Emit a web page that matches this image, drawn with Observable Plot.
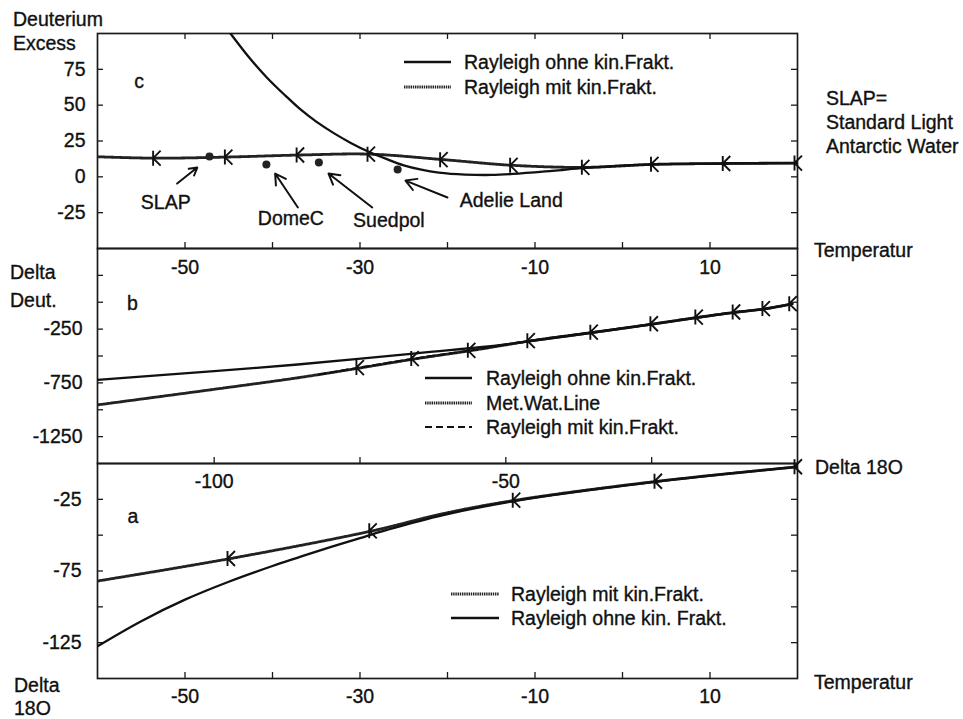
<!DOCTYPE html>
<html>
<head>
<meta charset="utf-8">
<script src="https://cdn.jsdelivr.net/npm/d3@7"></script>
<script src="https://cdn.jsdelivr.net/npm/@observablehq/plot@0.6"></script>
<style>
  body { margin: 0; background: #fff; }
  #fig { position: relative; width: 963px; height: 719px; overflow: hidden;
         font-family: "Liberation Sans", Arial, Helvetica, sans-serif; font-size: 19.5px; color: #111; }
  #fig svg.panel, #fig svg.overlay { position: absolute; left: 0; top: 0; }
  #fig svg.overlay { pointer-events: none; }
  #fig svg.panel text { stroke: #111; stroke-width: 0.35px; }
  .lbl { position: absolute; white-space: nowrap; line-height: 20px; -webkit-text-stroke: 0.35px #111; }
</style>
</head>
<body>
<div id="fig"></div>
<script>
// ---------- tick values ----------
const tempTicks = [-50, -40, -30, -20, -10, 0, 10];
const tempLabels = [-50, -30, -10, 10];
const excessTicks = [75, 50, 25, 0, -25];
const deutTicks = [250, 0, -250, -500, -750, -1000, -1250];
const deutLabels = [-250, -750, -1250];
const o18xTicks = [-100, -75, -50, -25];
const o18xLabels = [-100, -50];
const o18yTicks = [-25, -50, -75, -100, -125];
const o18yLabels = [-25, -75, -125];

// ---------- panel c: deuterium excess vs temperature ----------
const cOhneT = [-44.8, -42.5, -40.6, -38.5, -36.8, -35, -33, -31, -29, -27, -25, -23, -21, -18, -15, -12.5, -8, -4.3, 0, 3.6, 11.8, 20];
const cOhneD = [100, 82, 69, 56.5, 47, 38.5, 30.5, 23.5, 17.5, 12.5, 8, 5, 3, 1.6, 1.3, 2, 4.2, 6.2, 7.8, 8.7, 9.3, 9.6];
const cMitT = [-60, -53.3, -45.1, -36.9, -28.8, -20.5, -12.5, -4.3, 3.6, 11.8, 20];
const cMitD = [14, 13, 13.8, 15.2, 15.8, 12, 8, 6.6, 8.7, 9.3, 9.6];
const cMarkT = [-53.3, -45.1, -36.9, -28.8, -20.5, -12.5, -4.3, 3.6, 11.8, 20];
const cMarkD = [13, 13.8, 15.2, 15.8, 12, 8, 6.6, 8.7, 9.3, 9.6];

// measuring sites
const siteNames = ["SLAP", "DomeC", "Suedpol", "Adelie Land"];
const siteT = [-47.2, -40.7, -34.7, -25.7];
const siteD = [14.2, 8.6, 10, 5.1];
const siteArrowT1 = [-50.9, -37.1, -28.6, -20];
const siteArrowD1 = [-4.7, -21.4, -21.4, -14.4];
const siteArrowT2 = [-48.6, -39.7, -33.6, -24.8];
const siteArrowD2 = [6.5, 2.3, 2.3, -2.6];
const siteLabelT = [-52.2, -37.9, -26.7, -18.6];
const siteLabelD = [-18, -29, -30.5, -16.5];
const siteLabelAnchor = ["middle", "middle", "middle", "start"];

// ---------- panel b: delta D vs delta 18O ----------
const bOhneO = [-120, -100, -85.7, -66.3, -51.4, -45.8, -35, -24.7, -17, -10.6, -5.5, -0.9];
const bOhneD = [-722, -640, -579, -480, -402, -362, -282, -203, -142, -94, -62, -16];
const bMwlO = [-120, -100, -85.7, -75.1, -65.7, -56, -45.8, -35, -24.7, -17, -10.6, -5.5, -0.9];
const bMwlD = [-955, -810, -703, -612, -528, -450, -360, -280, -202, -140, -93, -61, -15];
const bMitO = [-82, -75.1, -65.7, -56, -45.8, -35, -24.7, -17, -10.6, -5.5, -0.9];
const bMitD = [-672, -608, -524, -447, -357, -278, -200, -138, -91, -59, -13];
const bMarkO = [-75.1, -65.7, -56, -45.8, -35, -24.7, -17, -10.6, -5.5, -0.9];
const bMarkD = [-608, -524, -447, -357, -278, -200, -138, -91, -59, -13];

// ---------- panel a: delta 18O vs temperature ----------
const aMitT = [-60, -44.8, -28.6, -20.5, -12.2, 4, 20];
const aMitO = [-82, -66.3, -47, -35, -25.6, -12.4, -2.3];
const aMarkT = [-44.8, -28.6, -12.2, 4, 20];
const aMarkO = [-66.3, -47, -25.6, -12.4, -2.3];
const aOhneT = [-60, -55, -50, -45, -40, -35, -30, -27, -20.5, -12.2, 4, 20];
const aOhneO = [-127.5, -110, -95, -82.5, -71.5, -61.5, -52, -46.5, -36, -26, -12.6, -2.3];

// ---------- layout ----------
const W = 963, H = 719;
const L = 97, R = 797;
const IW = R - L;
const TICK = 6;
const FS = 19.5;
const fontStack = '"Liberation Sans", Arial, Helvetica, sans-serif';

const ink = "#111";
const solidStyle = {stroke: ink, strokeWidth: 2.3};
const dottedStyle = {stroke: "#222", strokeWidth: 2.8, strokeDasharray: "1.4,0.8"};
const dashedStyle = {stroke: ink, strokeWidth: 2, strokeDasharray: "7,4"};

const pts = (xs, ys) => xs.map((x, i) => ({x, y: ys[i]}));

// "K" shaped marker used along the curves
const kSymbol = {
  draw(context, size) {
    const r = Math.sqrt(size / Math.PI);
    context.moveTo(-0.4 * r, -r);
    context.lineTo(-0.4 * r, r);
    context.moveTo(0.6 * r, -r);
    context.lineTo(-0.4 * r, 0);
    context.lineTo(0.6 * r, r);
  }
};
const kMarks = (data) => Plot.dot(data, {x: "x", y: "y", symbol: kSymbol, r: 7.5, fill: "none", stroke: ink, strokeWidth: 1.9});

function frameAndTicks(ih, {bottom = [], top = [], yTicks = []}) {
  const s = {stroke: "#1a1a1a", strokeWidth: 1.3};
  return [
    Plot.frame({stroke: "#1a1a1a", strokeWidth: 1.7}),
    Plot.ruleX(bottom, {insetTop: ih - TICK, ...s}),
    Plot.ruleX(top, {insetBottom: ih - TICK, ...s}),
    Plot.ruleY(yTicks, {insetRight: IW - TICK, ...s}),
    Plot.ruleY(yTicks, {insetLeft: IW - TICK, ...s})
  ];
}

function panel({xDomain, yDomain, top, bottom, marks}) {
  return Plot.plot({
    width: W, height: H,
    marginLeft: L, marginRight: W - R, marginTop: top, marginBottom: H - bottom,
    x: {domain: xDomain},
    y: {domain: yDomain},
    style: {background: "transparent", fontFamily: fontStack, fontSize: FS + "px", color: ink, overflow: "visible"},
    marks
  });
}

const fmt = d => String(d);
const smooth = "catmull-rom";
const panelLetter = (letter, dx, dy) =>
  Plot.text([letter], {frameAnchor: "top-left", dx, dy, textAnchor: "middle", lineAnchor: "middle", fill: ink});

// panel c
const cTop = 33, cBottom = 248;
const sites = siteNames.map((name, i) => ({
  name, x: siteT[i], y: siteD[i],
  x1: siteArrowT1[i], y1: siteArrowD1[i], x2: siteArrowT2[i], y2: siteArrowD2[i],
  lx: siteLabelT[i], ly: siteLabelD[i], anchor: siteLabelAnchor[i]
}));
const panelC = panel({
  xDomain: [-60, 20], yDomain: [-50, 100], top: cTop, bottom: cBottom,
  marks: [
    ...frameAndTicks(cBottom - cTop, {bottom: tempTicks, top: tempTicks, yTicks: excessTicks}),
    Plot.axisX({ticks: tempLabels, anchor: "bottom", tickSize: 0, tickPadding: 12, tickFormat: fmt, label: null}),
    Plot.axisY({ticks: excessTicks, anchor: "left", tickSize: 0, tickPadding: 12, tickFormat: fmt, label: null}),
    Plot.line(pts(cMitT, cMitD), {x: "x", y: "y", curve: smooth, clip: true, ...dottedStyle}),
    Plot.line(pts(cOhneT, cOhneD), {x: "x", y: "y", curve: smooth, clip: true, ...solidStyle}),
    kMarks(pts(cMarkT, cMarkD)),
    Plot.dot(sites, {x: "x", y: "y", r: 4, fill: "#222"}),
    Plot.arrow(sites, {x1: "x1", y1: "y1", x2: "x2", y2: "y2", stroke: ink, strokeWidth: 2, headLength: 9}),
    Plot.text(sites.filter(d => d.anchor === "middle"), {x: "lx", y: "ly", text: "name", textAnchor: "middle", fill: ink}),
    Plot.text(sites.filter(d => d.anchor === "start"), {x: "lx", y: "ly", text: "name", textAnchor: "start", fill: ink}),
    panelLetter("c", 41.5, 48.5)
  ]
});

// panel b
const bTop = 248, bBottom = 463;
const panelB = panel({
  xDomain: [-120, 0], yDomain: [-1500, 500], top: bTop, bottom: bBottom,
  marks: [
    ...frameAndTicks(bBottom - bTop, {bottom: o18xTicks, yTicks: deutTicks}),
    Plot.axisX({ticks: o18xLabels, anchor: "bottom", tickSize: 0, tickPadding: 11, tickFormat: fmt, label: null}),
    Plot.axisY({ticks: deutLabels, anchor: "left", tickSize: 0, tickPadding: 15, tickFormat: fmt, label: null}),
    Plot.line(pts(bMwlO, bMwlD), {x: "x", y: "y", curve: smooth, clip: true, ...dottedStyle}),
    Plot.line(pts(bMitO, bMitD), {x: "x", y: "y", curve: smooth, clip: true, ...dashedStyle}),
    Plot.line(pts(bOhneO, bOhneD), {x: "x", y: "y", curve: smooth, clip: true, ...solidStyle}),
    kMarks(pts(bMarkO, bMarkD)),
    panelLetter("b", 35, 55)
  ]
});

// panel a
const aTop = 463, aBottom = 678;
const panelA = panel({
  xDomain: [-60, 20], yDomain: [-150, 0], top: aTop, bottom: aBottom,
  marks: [
    ...frameAndTicks(aBottom - aTop, {bottom: tempTicks, yTicks: o18yTicks}),
    Plot.axisX({ticks: tempLabels, anchor: "bottom", tickSize: 0, tickPadding: 11, tickFormat: fmt, label: null}),
    Plot.axisY({ticks: o18yLabels, anchor: "left", tickSize: 0, tickPadding: 16, tickFormat: fmt, label: null}),
    Plot.line(pts(aMitT, aMitO), {x: "x", y: "y", curve: smooth, clip: true, ...dottedStyle}),
    Plot.line(pts(aOhneT, aOhneO), {x: "x", y: "y", curve: smooth, clip: true, ...solidStyle}),
    kMarks(pts(aMarkT, aMarkO)),
    panelLetter("a", 35.5, 53)
  ]
});

const fig = document.getElementById("fig");
for (const p of [panelC, panelB, panelA]) {
  p.classList.add("panel");
  fig.append(p);
}

// ---------- titles, side notes and legends ----------
function label(text, x, yCenter) {
  const div = document.createElement("div");
  div.className = "lbl";
  div.textContent = text;
  div.style.left = x + "px";
  div.style.top = (yCenter - 10) + "px";
  fig.append(div);
}

label("Deuterium", 13, 18.5);
label("Excess", 13, 42.5);
label("Delta", 10, 272);
label("Deut.", 10, 300);
label("Delta", 14, 685);
label("18O", 14, 708);
label("Temperatur", 814, 250);
label("Delta 18O", 815, 467);
label("Temperatur", 814, 682);
label("SLAP=", 826, 98);
label("Standard Light", 826, 122);
label("Antarctic Water", 826, 146);

const overlay = d3.select(fig).append("svg").attr("class", "overlay").attr("width", W).attr("height", H);
function legend(rows, x0, x1, xText) {
  for (const r of rows) {
    overlay.append("line")
      .attr("x1", x0).attr("x2", x1).attr("y1", r.y).attr("y2", r.y)
      .attr("stroke", r.style.stroke)
      .attr("stroke-width", r.style.strokeWidth)
      .attr("stroke-dasharray", r.style.strokeDasharray || null);
    label(r.text, xText, r.y);
  }
}

legend([
  {text: "Rayleigh ohne kin.Frakt.", y: 62, style: solidStyle},
  {text: "Rayleigh mit kin.Frakt.", y: 87, style: dottedStyle}
], 404, 451, 464);

legend([
  {text: "Rayleigh ohne kin.Frakt.", y: 378, style: solidStyle},
  {text: "Met.Wat.Line", y: 403, style: dottedStyle},
  {text: "Rayleigh mit kin.Frakt.", y: 427, style: dashedStyle}
], 425, 472, 486);

legend([
  {text: "Rayleigh mit kin.Frakt.", y: 594, style: dottedStyle},
  {text: "Rayleigh ohne kin. Frakt.", y: 618, style: solidStyle}
], 451, 499, 511);
</script>
</body>
</html>
